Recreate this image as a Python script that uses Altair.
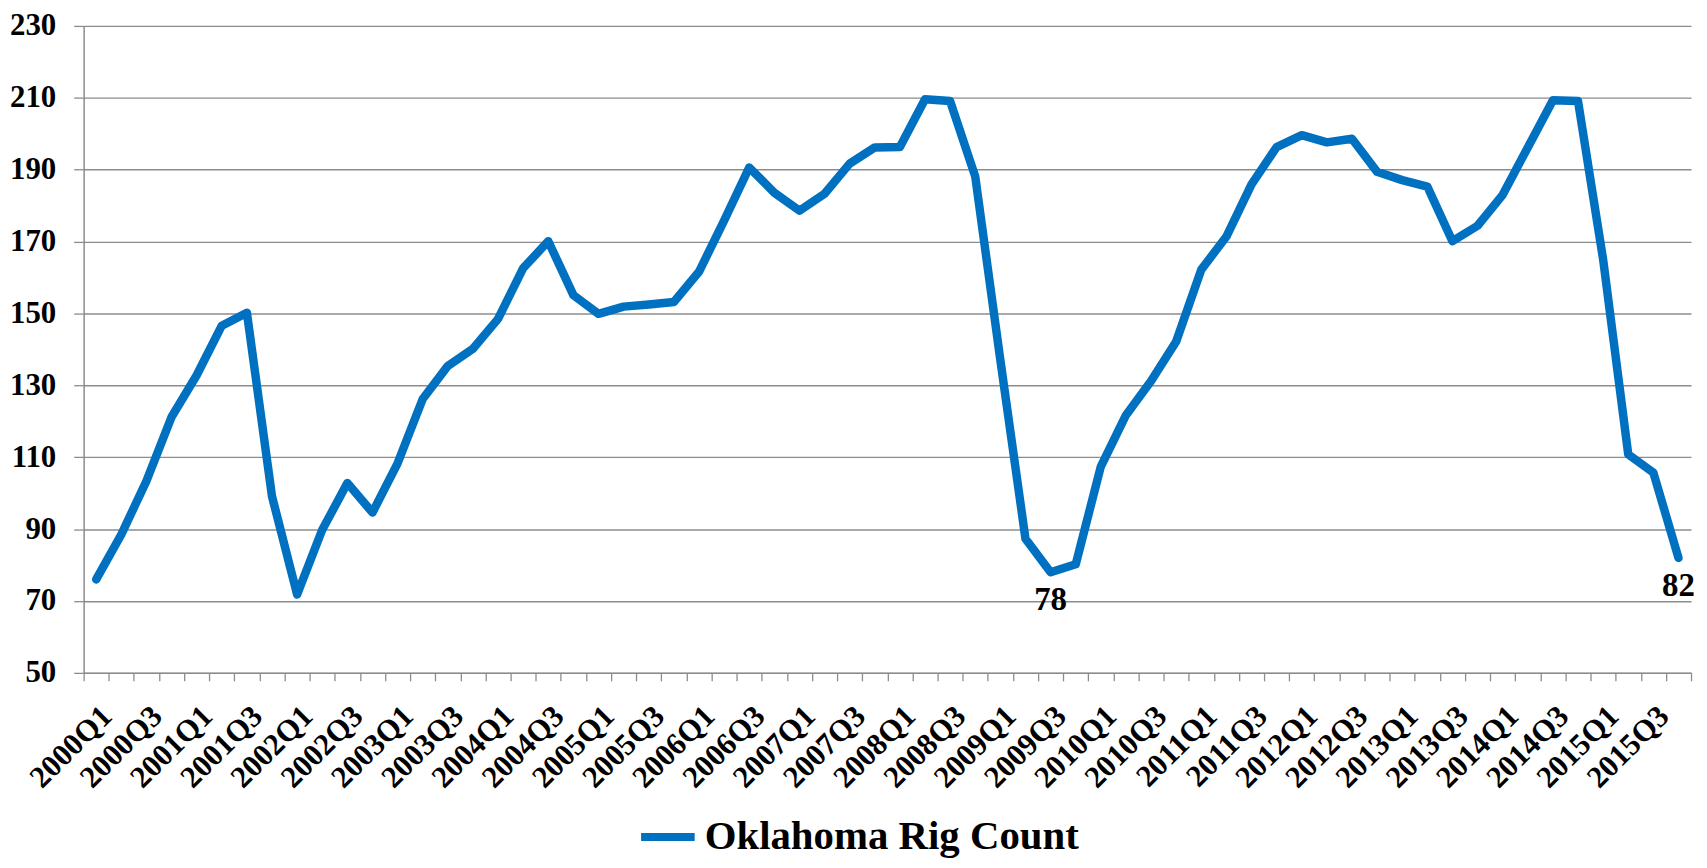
import altair as alt
import pandas as pd

years = [2000, 2001, 2002, 2003, 2004, 2005, 2006, 2007,
         2008, 2009, 2010, 2011, 2012, 2013, 2014, 2015]
quarter_names = ["Q1", "Q2", "Q3", "Q4"]
quarters = [f"{y}{q}" for y in years for q in quarter_names]

rig_count = [
    76, 88.5, 103.4, 121.2,        # 2000
    132.8, 146.6, 150.2, 99.1,     # 2001
    71.8, 89.8, 102.8, 94.6,       # 2002
    108.3, 126.2, 135.4, 140.2,    # 2003
    148.5, 162.6, 170.1, 155.1,    # 2004
    149.9, 151.9, 152.5, 153.2,    # 2005
    161.6, 175.8, 190.6, 183.6,    # 2006
    178.6, 183.3, 191.7, 196.2,    # 2007
    196.3, 209.6, 209.1, 188.1,    # 2008
    137, 87.3, 78, 80.2,           # 2009
    107.4, 121.7, 131.2, 142.2,    # 2010
    162.2, 171.4, 185.9, 196.3,    # 2011
    199.6, 197.6, 198.6, 189.4,    # 2012
    187.1, 185.3, 170.1, 174.4,    # 2013
    183.0, 196.2, 209.3, 209.1,    # 2014
    165.0, 110.8, 105.7, 82,       # 2015
]
series_name = "Oklahoma Rig Count"
annotated = ["2009Q3", "2015Q4"]
y_ticks = [50, 70, 90, 110, 130, 150, 170, 190, 210, 230]

df = pd.DataFrame({"quarter": quarters, "value": rig_count, "series": series_name})

FONT = "Liberation Serif"
GRAY = "#8c8c8c"
BLUE = "#0070C0"

x_enc = alt.X(
    "quarter:O",
    sort=quarters,
    scale=alt.Scale(type="band", paddingInner=0, paddingOuter=0),
    axis=alt.Axis(
        title=None,
        labelAngle=-45,
        labelExpr="(indexof(datum.label,'Q1')>=0 || indexof(datum.label,'Q3')>=0) ? datum.label : ''",
        labelFont=FONT, labelFontWeight="bold", labelFontSize=31, labelColor="black",
        labelPadding=20, labelOverlap=False, labelBound=False,
        tickBand="extent", ticks=True, tickSize=8, tickColor=GRAY, tickWidth=1.3,
        domainColor=GRAY, domainWidth=1.5, grid=False,
    ),
)
y_enc = alt.Y(
    "value:Q",
    scale=alt.Scale(domain=[50, 230], nice=False, zero=False),
    axis=alt.Axis(
        title=None, values=y_ticks,
        labelFont=FONT, labelFontWeight="bold", labelFontSize=31, labelColor="black",
        labelPadding=18, tickSize=10, tickColor=GRAY, tickWidth=1.3,
        domainColor=GRAY, domainWidth=1.5,
        grid=True, gridColor=GRAY, gridWidth=1.4,
    ),
)

line = alt.Chart(df).mark_line(strokeWidth=8.5, strokeCap="round", strokeJoin="round").encode(
    x=x_enc, y=y_enc,
    color=alt.Color(
        "series:N",
        scale=alt.Scale(range=[BLUE]),
        legend=alt.Legend(
            title=None, orient="none", legendX=556, legendY=784,
            symbolType="stroke", symbolStrokeWidth=8, symbolSize=2900,
            labelFont=FONT, labelFontWeight="bold", labelFontSize=41, labelColor="black",
            labelOffset=6, padding=0, labelLimit=0,
        ),
    ),
)

labels = alt.Chart(df).transform_filter(
    alt.FieldOneOfPredicate(field="quarter", oneOf=annotated)
).mark_text(
    font=FONT, fontWeight="bold", fontSize=33, color="black", dy=28, baseline="middle"
).encode(
    x=alt.X("quarter:O", sort=quarters),
    y="value:Q",
    text=alt.Text("value:Q", format=".0f"),
)

chart = alt.layer(line, labels).properties(
    width=1615, height=650,
    autosize=alt.AutoSizeParams(type="none"),
    padding={"left": 76, "top": 16, "right": 8, "bottom": 186},
    background="white",
).configure_view(stroke=None)

chart.save("out.html", embed_options={"renderer": "svg", "actions": False})
